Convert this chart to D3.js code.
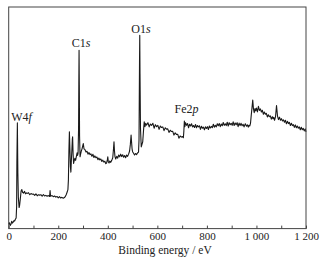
<!DOCTYPE html>
<html><head><meta charset="utf-8">
<script src="https://cdn.jsdelivr.net/npm/d3@7"></script>
<style>
html,body{margin:0;padding:0;background:#fff;}
svg{display:block;}
svg text{font-family:"Liberation Serif","Times New Roman",serif !important;}
</style></head>
<body><svg id="c" width="325" height="265"></svg>
<script>
// Binding energy (eV) and intensity (a.u.)
const energy = [
0,3,6,9,12,15,18,21,24,27,30,32,33,35,37,39,42,44,47,50,53,56,
60,64,68,72,76,80,85,90,95,100,105,110,115,120,125,130,135,140,145,150,155,160,165,167,169,175,180,185,190,195,200,205,210,215,220,225,
228,232,236,239,241,243,245,247,249,251,253,255,257,258,260,262,264,267,270,273,276,278,280,282,283,284,285,286,288,290,293,
296,301,304,308,312,316,320,324,328,332,336,340,344,348,352,356,360,364,368,372,376,380,384,388,392,395,398,400,402,405,408,412,416,420,423,425,427,429,432,436,440,444,448,452,456,460,464,468,472,476,480,484,488,491,494,496,498,500,504,508,512,516,520,524,526,528,529,530,532,535,538,541,544,547,550,553,
556,562,567,572,577,582,587,592,597,602,607,612,617,622,627,632,637,642,647,652,657,662,667,672,677,682,687,692,697,702,705,707,709,711,714,718,722,726,730,734,738,742,746,750,754,758,762,766,770,774,778,782,786,790,794,798,802,806,810,814,818,822,826,830,834,838,842,846,850,854,858,862,866,870,874,878,882,886,890,894,898,902,906,910,914,918,922,926,930,934,938,942,946,950,955,960,
964,967,970,973,976,979,982,985,988,991,994,997,1000,1004,1008,1012,1016,1020,1024,1028,1032,1036,1040,1044,1048,1052,1056,1060,1064,1067,1070,1073,1077,1081,1085,1089,1093,1097,1101,1105,1109,1113,1117,1121,1125,1129,1133,1137,1141,1145,1149,1153,1157,1161,1165,1169,1173,1177,1181,1185,1189,1193,1197,1200];
const intensity = [
2.0,2.6,1.4,1.9,3.3,2.5,2.9,3.6,3.4,4.2,4.8,10,30,47.7,25,14,9.5,10.5,13.5,17.0,17.6,16.4,
16.0,16.8,15.7,16.1,15.9,16.2,15.3,15.8,15.5,15.6,15.0,15.7,14.8,15.3,15.1,15.3,14.6,15.4,14.7,15.0,14.6,14.9,14.5,17.2,14.6,14.9,14.4,14.7,14.2,14.5,13.9,14.4,13.8,14.1,13.7,14.0,
14.4,15.3,16.5,17.6,22,35,43.7,36,27.9,25.5,31,35.5,40.5,41.4,33.5,29.4,30.5,31.7,30.8,32.5,34.2,33.0,34.0,45,65,80.5,65,42,32.4,33.5,35.0,
36.0,38.4,36.0,35.6,34.6,34.9,33.6,34.3,33.4,33.7,32.6,33.5,32.1,32.8,32.0,32.3,31.1,31.8,31.0,31.4,30.3,30.9,30.0,30.4,29.3,29.6,31.0,32.4,30.2,29.6,30.5,29.9,30.8,32.0,36.0,39.2,35.0,32.5,31.4,32.6,31.8,33.2,32.4,33.6,32.5,33.3,32.2,33.0,32.0,33.2,32.6,33.6,35.0,38.0,42.2,39.0,36.0,34.7,34.0,33.2,33.9,33.4,34.1,34.5,40,75,87.2,70,45,36.9,38.0,39.2,44.0,48.2,46.0,47.5,
46.7,47.8,45.9,47.2,46.6,47.5,45.3,46.9,46.0,46.6,44.8,46.3,45.6,45.9,44.2,45.5,44.9,45.0,43.4,44.4,43.8,43.9,42.2,43.2,42.5,42.6,40.8,41.8,41.3,41.5,41.0,44,48.5,46.0,47.8,46.6,47.4,45.5,47.1,46.3,47.3,45.9,46.5,45.6,47.0,45.5,46.5,45.9,46.4,44.8,46.2,45.3,45.8,44.6,45.9,45.2,46.0,44.7,46.3,45.4,46.1,45.6,47.1,45.8,46.6,45.9,47.3,46.4,47.4,46.0,47.2,46.4,47.9,46.6,47.3,46.5,48.0,46.3,47.8,46.9,47.5,46.6,48.2,46.5,47.7,46.9,47.8,46.0,47.6,46.5,47.5,46.4,47.1,45.9,47.3,46.2,46.8,45.8,46.6,46.3,
47.5,51.2,54.5,58.0,54.0,52.3,54.2,53.1,54.4,52.7,55.2,53.3,54.0,52.6,53.4,51.6,52.6,51.6,52.0,50.4,51.4,50.5,50.9,49.4,50.5,49.6,50.2,48.9,50.5,55.5,50.8,49.2,50.3,48.9,49.6,48.6,49.1,48.0,48.9,47.3,48.4,47.4,47.9,46.5,47.5,46.5,46.9,45.7,46.8,45.5,46.3,45.3,45.9,44.6,45.7,44.6,45.2,44.1,45.0,43.6,44.6,43.8,44.1,43.6];

const xTicks = [0,100,200,300,400,500,600,700,800,900,1000,1100,1200];
const xTickLabels = ["0","","200","","400","","600","","800","","1 000","","1 200"];
const xTitle = "Binding energy / eV";
const peakLabels = [
  {base:"W4", ital:"f", energy:52, level:48.5},
  {base:"C1", ital:"s", energy:292, level:81.8},
  {base:"O1", ital:"s", energy:534, level:88.1},
  {base:"Fe2", ital:"p", energy:718, level:52.1}
];

const L=8.7, R=306, T=7, B=228.6;
const svg = d3.select("#c");
const x = d3.scaleLinear().domain([0,1200]).range([L,R]);
const y = d3.scaleLinear().domain([0,100]).range([B,T]);

const pts = energy.map((e,i)=>[e,intensity[i]]);
svg.append("path").datum(pts)
  .attr("fill","none").attr("stroke","#1a1a1a").attr("stroke-width",1.1)
  .attr("stroke-linejoin","round")
  .attr("d", d3.line().x(d=>x(d[0])).y(d=>y(d[1])));

svg.append("rect").attr("x",L).attr("y",T).attr("width",R-L).attr("height",B-T)
  .attr("fill","none").attr("stroke","#444").attr("stroke-width",1);

const ax = svg.append("g").attr("transform",`translate(0,${B})`)
  .attr("font-family","'Liberation Serif','Times New Roman',serif")
  .call(d3.axisBottom(x).tickValues(xTicks).tickSizeInner(-3).tickSizeOuter(0).tickPadding(4)
    .tickFormat((d,i)=>xTickLabels[i]));
ax.attr("font-family","'Liberation Serif','Times New Roman',serif");
ax.select(".domain").remove();
ax.selectAll("line").attr("stroke","#444");
ax.selectAll("text").attr("font-size",11).attr("fill","#222");

svg.append("text").attr("x",165).attr("y",254).attr("text-anchor","middle")
  .attr("font-size",11.5).attr("fill","#222").text(xTitle);

peakLabels.forEach(p=>{
  const t = svg.append("text").attr("x",x(p.energy)).attr("y",y(p.level))
    .attr("text-anchor","middle").attr("font-size",12).attr("fill","#222");
  t.append("tspan").text(p.base);
  t.append("tspan").attr("font-style","italic").text(p.ital);
});
</script></body></html>
